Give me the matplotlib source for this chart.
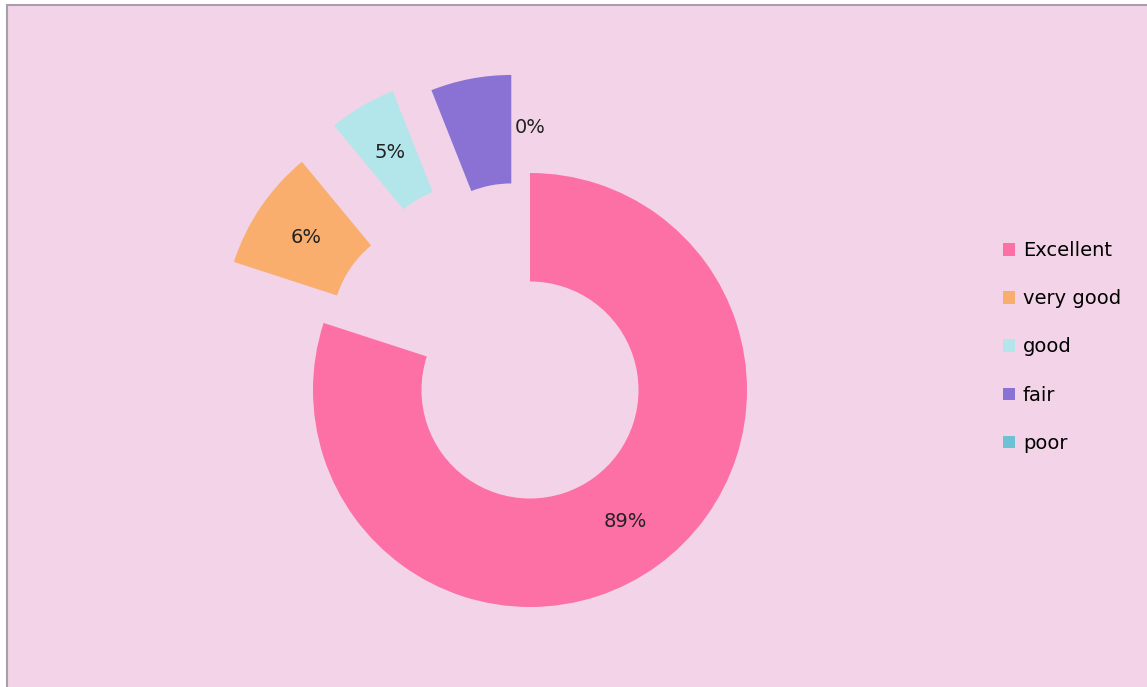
import matplotlib
matplotlib.use('Agg')
from matplotlib import pyplot as plt
from matplotlib.patches import Rectangle
import numpy as np

categories = ['Excellent', 'very good', 'good', 'fair', 'poor']
shares = [80, 9, 5, 6, 0]
label_text = ['89%', '6%', '5%', '', '0%']
colors = ['#FD70A6', '#F9AE6E', '#B2E6EA', '#8A72D4', '#6CC1D4']
explode = [0, 0.5, 0.52, 0.46, 0.46]

W, H = 1147, 687
fig = plt.figure(figsize=(W / 100, H / 100), dpi=100, facecolor='white')

# pink card with grey border on left / top
card = Rectangle((7 / W, -0.05), 1.1, 1 - 5 / H + 0.05,
                 transform=fig.transFigure, facecolor='#F3D3E7',
                 edgecolor='#A8A0A8', linewidth=1.5, zorder=-10)
fig.patches.append(card)

# donut centre at (530, 390) px, outer radius 217 px
lim = 1.7
s = lim * 217
ax = fig.add_axes([(530 - s) / W, (H - 390 - s) / H, 2 * s / W, 2 * s / H])
ax.set_zorder(5)
ax.set_facecolor('none')

wedges, _ = ax.pie(shares, colors=colors, startangle=90, counterclock=False,
                   explode=explode, radius=1.0,
                   wedgeprops=dict(width=0.5, linewidth=0))

for w, t in zip(wedges, label_text):
    if not t:
        continue
    ang = np.deg2rad((w.theta1 + w.theta2) / 2)
    cx, cy = w.center
    ax.text(cx + 0.75 * np.cos(ang), cy + 0.75 * np.sin(ang), t,
            ha='center', va='center', fontsize=14, color='#222222')

ax.set_xlim(-lim, lim)
ax.set_ylim(-lim, lim)
ax.axis('off')

leg = fig.legend(wedges, categories, loc='center left',
                 bbox_to_anchor=(1003 / W, 1 - 347 / H), frameon=False,
                 fontsize=14, handlelength=0.62, handleheight=0.62,
                 handletextpad=0.4, labelspacing=1.5, borderpad=0,
                 borderaxespad=0)
leg.set_zorder(6)

fig.savefig('out.png', dpi=100, facecolor=fig.get_facecolor())
